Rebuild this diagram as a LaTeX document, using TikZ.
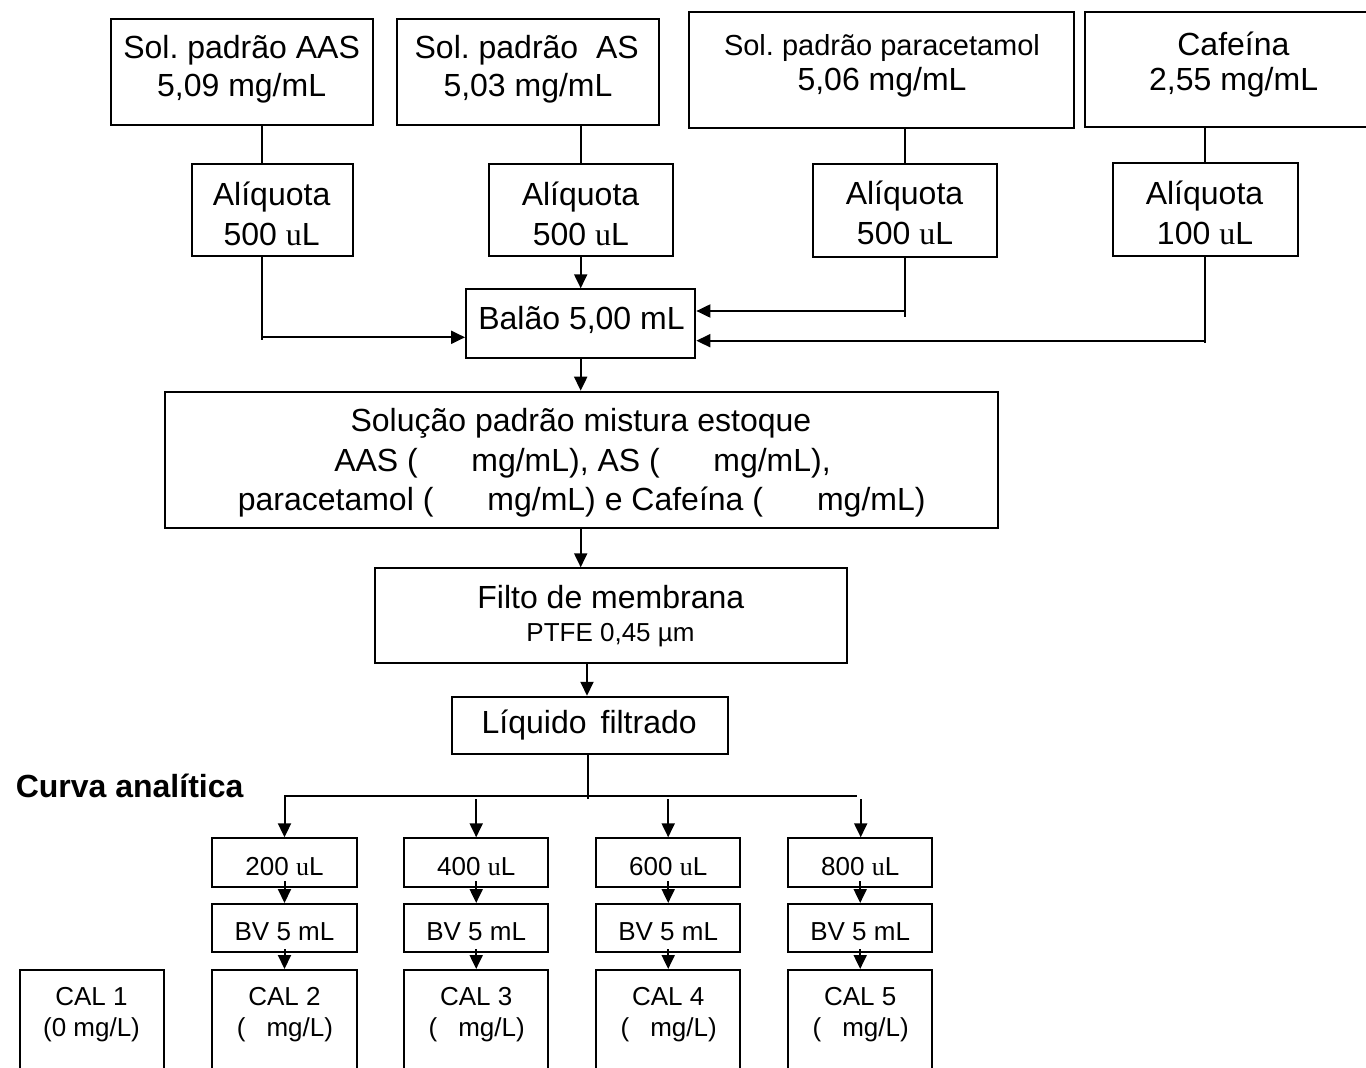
\documentclass[tikz,border=0pt]{standalone}
\usepackage{fontspec}
\setmainfont{Liberation Sans}
\newfontfamily\ufont{Liberation Serif}
\usetikzlibrary{arrows.meta,calc}
\frenchspacing
\begin{document}
\frenchspacing
\begin{tikzpicture}[x=1pt,y=-1pt,
  box/.style={draw, line width=2pt, inner sep=0pt, rectangle},
  txt/.style={anchor=base, inner sep=0pt, font=\fontsize{32}{38}\selectfont},
  stxt/.style={anchor=base, inner sep=0pt, font=\fontsize{26}{31}\selectfont},
  ln/.style={line width=2pt},
  arr/.style={line width=2pt, -{Triangle[length=14pt,width=13pt]}},
  sbox/.style={box, minimum width=144.4pt, minimum height=48.4pt},
  cbox/.style={box, minimum width=144.4pt, minimum height=120pt}]
\useasboundingbox (0,0) rectangle (1366,1068);
\clip (0,0) rectangle (1366,1068);
\fill[white] (0,0) rectangle (1366,1068);

% ---- top row
\node[box, minimum width=261.8pt, minimum height=105.7pt] (aas) at (241.6,72.15) {};
\node[txt] (aasA) at (241.6,58.3) {Sol. padrão AAS};
\node[txt] (aasB) at (241.6,96.7) {5,09 mg/mL};
\node[box, minimum width=262.9pt, minimum height=105.7pt] (as) at (528,72.15) {};
\node[txt] (asA) at (526.7,58.3) {Sol. padrão\ \ AS};
\node[txt] (asB) at (528,96.7) {5,03 mg/mL};
\node[box, minimum width=385pt, minimum height=115.4pt] (par) at (881.2,70) {};
\node[txt, font=\fontsize{29}{34}\selectfont] (parA) at (882,55) {Sol. padrão paracetamol};
\node[txt] (parB) at (882,90.7) {5,06 mg/mL};
\node[box, minimum width=305.4pt, minimum height=114.4pt] (caf) at (1237.3,69.5) {};
\node[txt] (cafA) at (1233.4,55) {Cafeína};
\node[txt] (cafB) at (1233.6,90.7) {2,55 mg/mL};

% ---- aliquots
\node[box, minimum width=160.8pt, minimum height=92pt] (al1) at (272.2,210) {};
\node[txt] (al1A) at (271.6,205) {Alíquota};
\node[txt] (al1B) at (271.6,245) {500 {\ufont u}L};
\node[box, minimum width=183.7pt, minimum height=92pt] (al2) at (581,210) {};
\node[txt] (al2A) at (580.5,205) {Alíquota};
\node[txt] (al2B) at (580.9,245) {500 {\ufont u}L};
\node[box, minimum width=183.8pt, minimum height=92.7pt] (al3) at (905.3,210.3) {};
\node[txt] (al3A) at (904.5,204) {Alíquota};
\node[txt] (al3B) at (905,244) {500 {\ufont u}L};
\node[box, minimum width=184.7pt, minimum height=92.7pt] (al4) at (1205.4,209.7) {};
\node[txt] (al4A) at (1204.5,204) {Alíquota};
\node[txt] (al4B) at (1205,244) {100 {\ufont u}L};

% ---- balão
\node[box, minimum width=229.3pt, minimum height=69pt] (bal) at (580.7,323.8) {};
\node[txt] (balT) at (581.5,329.3) {Balão 5,00 mL};

% ---- connectors top
\coordinate (j1) at (261.5,337.3);
\coordinate (j3) at (905.3,311);
\coordinate (j4) at (1205.4,340.7);
\draw[ln] (aas.south -| j1) -- (al1.north -| j1);
\draw[ln] (al1.south -| j1) -- ($(j1)+(0,3)$);
\draw[arr] (j1) -- (bal.west |- j1);
\draw[ln] (as.south -| bal.north) -- (al2.north -| bal.north);
\draw[arr] (al2.south -| bal.north) -- (bal.north);
\draw[ln] (par.south -| j3) -- (al3.north -| j3);
\draw[ln] (al3.south -| j3) -- ($(j3)+(0,5.7)$);
\draw[arr] (j3) -- (bal.east |- j3);
\draw[ln] (caf.south -| j4) -- (al4.north -| j4);
\draw[ln] (al4.south -| j4) -- ($(j4)+(0,2.6)$);
\draw[arr] (j4) -- (bal.east |- j4);

% ---- stock solution
\node[box, minimum width=833.3pt, minimum height=136.6pt] (big) at (581.7,460) {};
\node[txt] (bigA) at (580.9,431.7) {Solução padrão mistura estoque};
\node[txt] (bigB) at (582.5,471) {AAS (\hspace{53.5pt}mg/mL), AS (\hspace{53.5pt}mg/mL),};
\node[txt] (bigC) at (581.7,510) {paracetamol (\hspace{54pt}mg/mL) e Cafeína (\hspace{54pt}mg/mL)};
\draw[arr] (bal.south) -- (big.north -| bal.south);

% ---- filter
\node[box, minimum width=472.3pt, minimum height=94.4pt] (fil) at (611.2,615.5) {};
\node[txt] (filA) at (610.8,608.3) {Filto de membrana};
\node[stxt] (filB) at (610.5,641.7) {PTFE 0,45 µm};
\draw[arr] (big.south -| bal.south) -- (fil.north -| bal.south);

% ---- filtered liquid
\coordinate (xd) at (587,700);
\node[box, minimum width=276pt, minimum height=57.3pt] (liq) at (589.7,725.4) {};
\node[txt] (liqT) at (589.2,733.3) {Líquido\hspace{14pt}filtrado};
\draw[arr] (fil.south -| xd) -- (liq.north -| xd);

\node[anchor=base west, inner sep=0pt, font=\bfseries\fontsize{32}{38}\selectfont] (curva) at (15.6,797.3) {Curva analítica};

% ---- calibration boxes
\node[sbox] (c2a) at (284.5,862.5) {};
\node[sbox] (c3a) at (476.2,862.5) {};
\node[sbox] (c4a) at (668.2,862.5) {};
\node[sbox] (c5a) at (860.2,862.5) {};
\node[sbox] (c2b) at (284.5,928.2) {};
\node[sbox] (c3b) at (476.2,928.2) {};
\node[sbox] (c4b) at (668.2,928.2) {};
\node[sbox] (c5b) at (860.2,928.2) {};
\node[cbox] (c1c) at (92.2,1030) {};
\node[cbox] (c2c) at (284.5,1030) {};
\node[cbox] (c3c) at (476.2,1030) {};
\node[cbox] (c4c) at (668.2,1030) {};
\node[cbox] (c5c) at (860.2,1030) {};

\node[stxt] (t2a) at (284.5,875) {200 {\ufont u}L};
\node[stxt] (t3a) at (476.2,875) {400 {\ufont u}L};
\node[stxt] (t4a) at (668.2,875) {600 {\ufont u}L};
\node[stxt] (t5a) at (860.2,875) {800 {\ufont u}L};
\node[stxt] (t2b) at (284.5,940) {BV 5 mL};
\node[stxt] (t3b) at (476.2,940) {BV 5 mL};
\node[stxt] (t4b) at (668.2,940) {BV 5 mL};
\node[stxt] (t5b) at (860.2,940) {BV 5 mL};
\node[stxt] (t1c) at (91.5,1005) {CAL 1};
\node[stxt] (t1d) at (91.5,1036.7) {(0 mg/L)};
\node[stxt] (t2c) at (284.5,1005) {CAL 2};
\node[stxt] (t2d) at (285,1036.7) {(\hspace{21pt}mg/L)};
\node[stxt] (t3c) at (476.2,1005) {CAL 3};
\node[stxt] (t3d) at (476.7,1036.7) {(\hspace{21pt}mg/L)};
\node[stxt] (t4c) at (668.2,1005) {CAL 4};
\node[stxt] (t4d) at (668.7,1036.7) {(\hspace{21pt}mg/L)};
\node[stxt] (t5c) at (860.2,1005) {CAL 5};
\node[stxt] (t5d) at (860.7,1036.7) {(\hspace{21pt}mg/L)};

% ---- branching
\coordinate (br) at (587.7,795.7);
\coordinate (brR) at (856.7,795.7);
\coordinate (brB) at (0,799);
\draw[ln] (liq.south -| br) -- ($(br)+(0,3.3)$);
\draw[arr] (brR) -- (br -| c2a) -- (c2a.north);
\draw[arr] (brB -| c3a) -- (c3a.north);
\draw[arr] (brB -| c4a) -- (c4a.north);
\draw[arr] ($(brB -| c5a)+(0.5,0)$) -- ($(c5a.north)+(0.5,0)$);

% ---- row arrows
\foreach \c in {c2,c3,c4,c5}{
  \draw[arr] ($(\c a.south)+(0,-6.7)$) -- (\c b.north);
  \draw[arr] ($(\c b.south)+(0,-4.3)$) -- (\c c.north);
}
\end{tikzpicture}
\end{document}
